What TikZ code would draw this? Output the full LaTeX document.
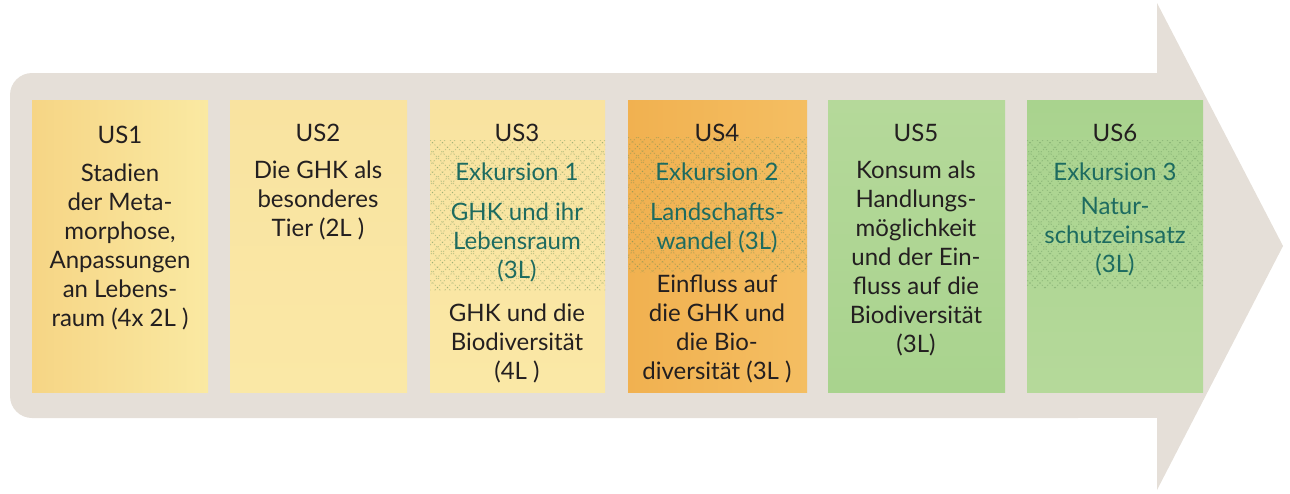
\documentclass[tikz,border=0pt]{standalone}
\usepackage{fontspec}
\setmainfont{Lato}
\definecolor{arrowc}{HTML}{E5DFD8}
\definecolor{txt}{HTML}{231F20}
\definecolor{teal}{HTML}{1D6B60}
\definecolor{hatchc}{HTML}{5E8C55}
\definecolor{yA}{HTML}{F6D585}
\definecolor{yB}{HTML}{FAE9A2}
\definecolor{yC}{HTML}{F9E3A0}
\definecolor{yD}{HTML}{FAE8A6}
\definecolor{oA}{HTML}{F1B150}
\definecolor{oB}{HTML}{F4BE62}
\definecolor{gA}{HTML}{A9D38E}
\definecolor{gB}{HTML}{B5D99A}
\tikzset{
  boxc/.style={inner sep=0pt, outer sep=0pt},
  tx/.style={text=txt, align=center, inner sep=0pt, font=\fontsize{24}{29}\selectfont},
  ttx/.style={tx, text=teal},
  hatchline/.style={hatchc, line width=0.8pt, opacity=0.35, dash pattern=on 1.3pt off 1.9pt}
}
\newcommand{\hatchbox}[4]{%
  \begin{scope}
    \clip (#1,#2) rectangle (#3,#4);
    \foreach \i in {-200,-190,...,200} {
      \draw[hatchline] (#1+\i,#2) -- ++(200,200);
      \draw[hatchline] (#3-\i,#2) -- ++(-200,200);
    }
  \end{scope}}
\begin{document}
\begin{tikzpicture}[x=1pt,y=-1pt]
\useasboundingbox (0,0) rectangle (1290,493);
% big arrow
\fill[arrowc, rounded corners=22] (10,73) rectangle (1100,418);
\fill[arrowc] (1080,73) rectangle (1158,418);
\fill[arrowc] (1157,3) -- (1283,246) -- (1157,490) -- cycle;
% boxes
\shade[left color=yA, right color=yB] (32,100) rectangle (208,392);
\node[boxc] (b1) at (120,246) {};
\shade[top color=yC, bottom color=yD] (230,100) rectangle (407,392);
\node[boxc] (b2) at (318,246) {};
\shade[top color=yC, bottom color=yD] (430,100) rectangle (605,392);
\node[boxc] (b3) at (517,246) {};
\shade[left color=oA, right color=oB] (628,100) rectangle (807,392);
\node[boxc] (b4) at (717,246) {};
\shade[top color=gB, bottom color=gA] (828,100) rectangle (1005,392);
\node[boxc] (b5) at (916,246) {};
\shade[top color=gA, bottom color=gB] (1027,100) rectangle (1203,392);
\node[boxc] (b6) at (1115,246) {};
% hatched areas
\hatchbox{430}{140}{605}{290}
\hatchbox{628}{137}{807}{272}
\hatchbox{1027}{140}{1203}{288}
% texts
\node[tx] (t1) at (120,135) {US1};
\node[tx] (s1) at (120,247) {Stadien\\der Meta-\\morphose,\\Anpassungen\\an Lebens-\\raum (4x 2L )};
\node[tx] (t2) at (318,133) {US2};
\node[tx] (s2) at (318,200) {Die GHK als\\besonderes\\Tier (2L )};
\node[tx] (t3) at (517,133) {US3};
\node[ttx] (e3) at (517,172) {Exkursion 1};
\node[ttx] (s3a) at (517,242) {GHK und ihr\\Lebensraum\\(3L)};
\node[tx] (s3b) at (517,343) {GHK und die\\Biodiversität\\(4L )};
\node[tx] (t4) at (717,133) {US4};
\node[ttx] (e4) at (717,172) {Exkursion 2};
\node[ttx] (s4a) at (717,228) {Landschafts-\\wandel (3L)};
\node[tx] (s4b) at (717,329) {Einfluss auf\\die GHK und\\die Bio-\\diversität (3L )};
\node[tx] (t5) at (916,133) {US5};
\node[tx] (s5) at (916,258) {Konsum als\\Handlungs-\\möglichkeit\\und der Ein-\\fluss auf die\\Biodiversität\\(3L)};
\node[tx] (t6) at (1115,133) {US6};
\node[ttx] (e6) at (1115,172) {Exkursion 3};
\node[ttx] (s6) at (1115,237) {Natur-\\schutzeinsatz\\(3L)};
\end{tikzpicture}
\end{document}
